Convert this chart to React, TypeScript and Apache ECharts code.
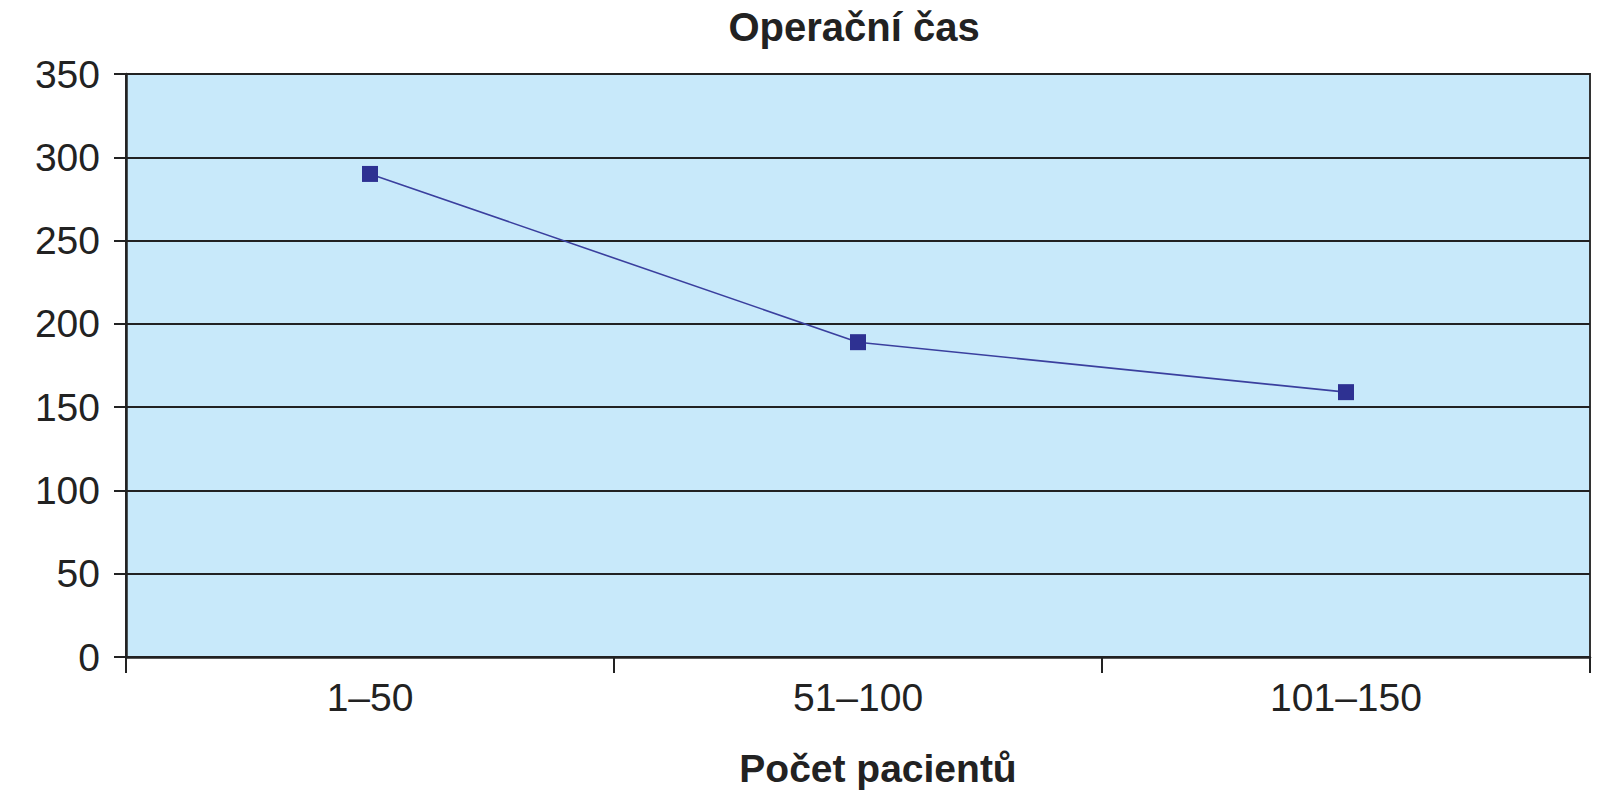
import React, { useEffect, useRef } from "react";
import * as echarts from "echarts";

const title = "Operační čas";
const xAxisName = "Počet pacientů";
const categories = ["1–50", "51–100", "101–150"];
const values = [290, 189, 159];
const yMin = 0;
const yMax = 350;
const yInterval = 50;

export default function App() {
  const ref = useRef<HTMLDivElement>(null);
  useEffect(() => {
    document.body.style.margin = "0";
    if (!ref.current) return;
    const chart = echarts.init(ref.current, null, { renderer: "svg" });
    const font = "'Liberation Sans', Arial, sans-serif";
    chart.setOption({
      animation: false,
      backgroundColor: "#ffffff",
      title: {
        text: title,
        left: 849,
        textAlign: "center",
        top: 2,
        textStyle: { fontFamily: font, fontSize: 40, fontWeight: "bold", color: "#222" },
      },
      grid: {
        left: 126,
        right: 21,
        top: 74,
        bottom: 143,
        show: true,
        backgroundColor: "#c8e9fa",
        borderColor: "#333",
        borderWidth: 2,
      },
      xAxis: {
        type: "category",
        data: categories,
        boundaryGap: true,
        name: xAxisName,
        nameLocation: "middle",
        nameGap: 92,
        nameTextStyle: {
          fontFamily: font,
          fontSize: 39,
          fontWeight: "bold",
          color: "#222",
          padding: [0, 0, 0, 40],
        },
        axisLine: { lineStyle: { color: "#222", width: 2.5 } },
        axisTick: { show: true, length: 16, alignWithLabel: false, lineStyle: { color: "#222", width: 2 } },
        axisLabel: { fontFamily: font, fontSize: 39, color: "#222", margin: 21 },
        splitLine: { show: false },
      },
      yAxis: {
        type: "value",
        min: yMin,
        max: yMax,
        interval: yInterval,
        axisLine: { show: true, lineStyle: { color: "#222", width: 2.5 } },
        axisTick: { show: true, length: 12, lineStyle: { color: "#222", width: 2 } },
        axisLabel: { fontFamily: font, fontSize: 39, color: "#222", margin: 26 },
        splitLine: { show: true, lineStyle: { color: "#222", width: 2 } },
      },
      series: [
        {
          type: "line",
          data: values,
          symbol: "rect",
          symbolSize: 16,
          itemStyle: { color: "#2e3192" },
          lineStyle: { color: "#3a3f9e", width: 1.6 },
        },
      ],
    });
    return () => chart.dispose();
  }, []);
  return <div ref={ref} style={{ position: "fixed", left: 0, top: 0, width: 1611, height: 800 }} />;
}
